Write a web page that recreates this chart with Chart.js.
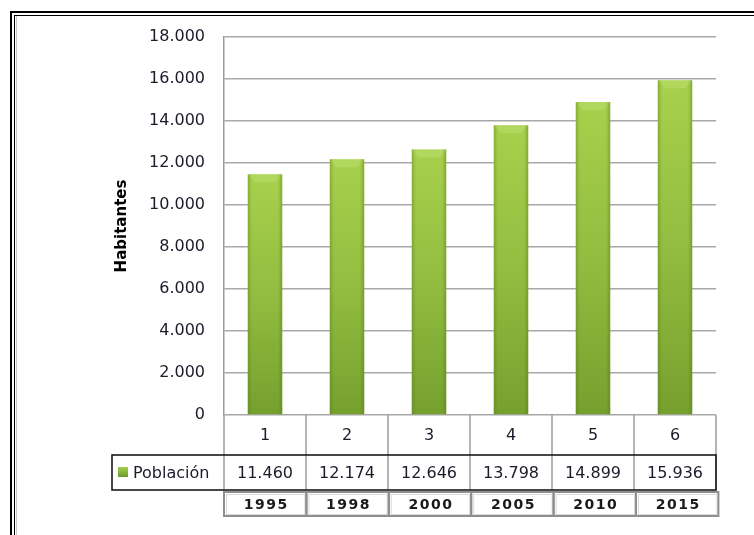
<!DOCTYPE html>
<html lang="es">
<head>
<meta charset="UTF-8">
<title>Población</title>
<script src="https://cdn.jsdelivr.net/npm/chart.js"></script>
<style>
  html, body { margin: 0; padding: 0; background: #fff; }
  #wrap { width: 754px; height: 535px; }
</style>
</head>
<body>
<div id="wrap"><canvas id="popChart" width="754" height="535"></canvas></div>
<script>
const categories = ['1', '2', '3', '4', '5', '6'];
const years = ['1995', '1998', '2000', '2005', '2010', '2015'];
const poblacion = [11460, 12174, 12646, 13798, 14899, 15936];
const seriesName = 'Población';
const axisTitle = 'Habitantes';

// thousands with a dot: 12.174
const fmt = v => String(v).replace(/\B(?=(\d{3})+(?!\d))/g, '.');
const textFont = '16px "DejaVu Sans", sans-serif';

function barFill(c) {
  const chart = c.chart;
  const area = chart.chartArea;
  if (!area || c.parsed == null) return '#8fbb3c';
  const top = chart.scales.y.getPixelForValue(c.parsed.y);
  const g = chart.ctx.createLinearGradient(0, top, 0, area.bottom);
  g.addColorStop(0, '#a8d04c');
  g.addColorStop(0.5, '#92bd40');
  g.addColorStop(1, '#75a02e');
  return g;
}

// bevelled top and darker sides on each bar
const bevel = {
  id: 'bevel',
  afterDatasetsDraw(chart) {
    const ctx = chart.ctx;
    chart.getDatasetMeta(0).data.forEach(bar => {
      const l = bar.x - bar.width / 2, r = bar.x + bar.width / 2;
      const t = bar.y, b = bar.base;
      ctx.save();
      ctx.fillStyle = 'rgba(190,225,120,0.45)';
      ctx.beginPath();
      ctx.moveTo(l, t); ctx.lineTo(r, t);
      ctx.lineTo(r - 7, t + 8); ctx.lineTo(l + 7, t + 8);
      ctx.closePath(); ctx.fill();
      const side = ctx.createLinearGradient(l, 0, r, 0);
      side.addColorStop(0, 'rgba(80,110,20,0.35)');
      side.addColorStop(0.12, 'rgba(80,110,20,0)');
      side.addColorStop(0.88, 'rgba(80,110,20,0)');
      side.addColorStop(1, 'rgba(80,110,20,0.4)');
      ctx.fillStyle = side;
      ctx.fillRect(l, t, r - l, b - t);
      ctx.restore();
    });
  }
};

// data table under the plot, y axis title and the frame
const tabla = {
  id: 'tabla',
  afterDraw(chart) {
    const ctx = chart.ctx;
    const a = chart.chartArea;
    const x = chart.scales.x;
    const cw = (a.right - a.left) / categories.length;
    const edges = categories.map((c, i) => x.getPixelForValue(i) - cw / 2).concat(a.right);

    const r1 = a.bottom, r2 = a.bottom + 40, r3 = a.bottom + 75;
    ctx.save();

    // category row
    ctx.strokeStyle = '#9c9c9c';
    ctx.lineWidth = 1.5;
    edges.forEach(e => {
      ctx.beginPath(); ctx.moveTo(e, r1); ctx.lineTo(e, r3); ctx.stroke();
    });
    ctx.fillStyle = '#1b1b2a';
    ctx.font = textFont;
    ctx.textAlign = 'center';
    ctx.textBaseline = 'middle';
    categories.forEach((c, i) => ctx.fillText(c, x.getPixelForValue(i), (r1 + r2) / 2 + 1));

    // values row
    ctx.strokeStyle = '#1a1a1a';
    ctx.lineWidth = 1.6;
    ctx.strokeRect(112, r2, a.right - 112, r3 - r2);
    poblacion.forEach((v, i) => ctx.fillText(fmt(v), x.getPixelForValue(i), (r2 + r3) / 2 + 1));
    const sw = ctx.createLinearGradient(0, r2 + 11, 0, r2 + 22);
    sw.addColorStop(0, '#a9d352');
    sw.addColorStop(1, '#6f9a2b');
    ctx.fillStyle = sw;
    ctx.fillRect(118, r2 + 12, 10, 10);
    ctx.fillStyle = '#1b1b2a';
    ctx.textAlign = 'left';
    ctx.fillText(seriesName, 133, (r2 + r3) / 2 + 1);

    // years row
    const y3 = r3 + 2, y4 = r3 + 26;
    const yEdges = edges.map((e, i) => e + i * 0.4);
    for (let i = 0; i < years.length; i++) {
      const l = yEdges[i], r = yEdges[i + 1];
      ctx.strokeStyle = '#dadada';
      ctx.lineWidth = 1;
      ctx.strokeRect(l + 2.5, y3 + 2.5, r - l - 4, y4 - y3 - 4);
      ctx.strokeStyle = '#8e8e8e';
      ctx.lineWidth = 2;
      ctx.strokeRect(l, y3, r - l, y4 - y3);
    }
    ctx.fillStyle = '#1a1a1a';
    ctx.font = 'bold 14px "DejaVu Sans", sans-serif';
    ctx.letterSpacing = '1.5px';
    ctx.textAlign = 'center';
    years.forEach((yr, i) => ctx.fillText(yr, (yEdges[i] + yEdges[i + 1]) / 2 + 1, (y3 + y4) / 2 + 1));
    ctx.letterSpacing = '0px';

    // y axis title
    ctx.save();
    ctx.translate(122, (a.top + a.bottom) / 2);
    ctx.rotate(-Math.PI / 2);
    ctx.fillStyle = '#000';
    ctx.font = 'bold 15px "DejaVu Sans", sans-serif';
    ctx.fillText(axisTitle, 0, 0);
    ctx.restore();

    // frame
    ctx.fillStyle = '#000';
    ctx.fillRect(10, 11, 744, 2);
    ctx.fillRect(14, 15, 740, 1);
    ctx.fillRect(10, 11, 2, 524);
    ctx.fillRect(14, 15, 1, 520);
    ctx.fillStyle = '#c8c8d0';
    ctx.fillRect(16, 16, 1, 519);
    ctx.restore();
  }
};

new Chart(document.getElementById('popChart'), {
  type: 'bar',
  data: {
    labels: categories,
    datasets: [{
      label: seriesName,
      data: poblacion,
      backgroundColor: barFill,
      borderWidth: 0,
      categoryPercentage: 1,
      barPercentage: 0.42
    }]
  },
  options: {
    responsive: false,
    animation: false,
    layout: { padding: { left: 0, top: 37, right: 38, bottom: 120 } },
    plugins: { legend: { display: false }, tooltip: { enabled: false } },
    scales: {
      x: { display: false },
      y: {
        min: 0,
        max: 18000,
        afterFit: s => { s.width = 224; },
        ticks: {
          stepSize: 2000,
          padding: 19,
          color: '#1b1b2a',
          font: { family: '"DejaVu Sans", sans-serif', size: 16 },
          callback: v => fmt(v)
        },
        grid: { color: '#a8a8a8', lineWidth: 1.5, drawTicks: false },
        border: { display: true, color: '#9c9c9c', width: 1.5 }
      }
    }
  },
  plugins: [bevel, tabla]
});
</script>
</body>
</html>
